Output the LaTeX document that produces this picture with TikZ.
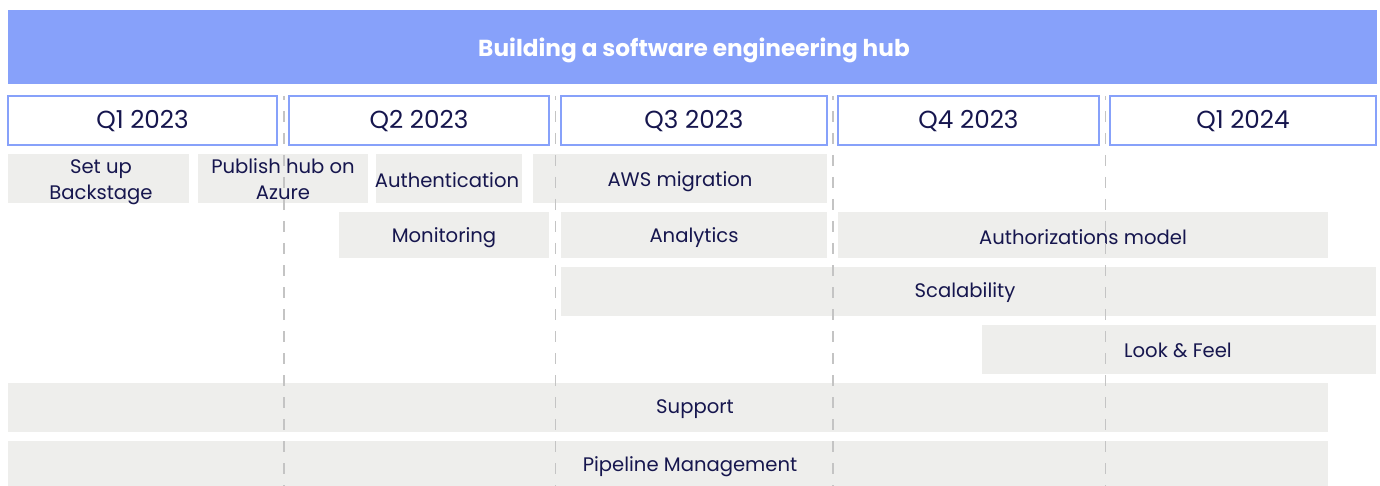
\documentclass[tikz,border=0pt]{standalone}
\usepackage{fontspec}
\setmainfont{Poppins}
\definecolor{hubblue}{HTML}{87A1FA}
\definecolor{navy}{HTML}{16164E}
\definecolor{barfill}{HTML}{EEEEEC}
\definecolor{dashgray}{HTML}{C4C4C4}
\begin{document}
\begin{tikzpicture}[x=1pt,y=-1pt,
  qtxt/.style={text=navy,font=\fontsize{24.7}{28}\selectfont,inner sep=0pt},
  itxt/.style={text=navy,font=\fontsize{19.6}{26}\selectfont,inner sep=0pt,align=center},
  bar/.style={fill=barfill},
  qframe/.style={draw=hubblue,line width=1.6pt,fill=white},
  divider/.style={draw=dashgray,line width=1.3pt,dash pattern=on 11pt off 11pt,dash phase=7pt}]
\useasboundingbox (0,0) rectangle (1380,486);
% title
\fill[hubblue] (8,10) rectangle (1377,84);
\node[text=white,font=\fontsize{23.2}{26}\selectfont\bfseries,inner sep=0pt] (title) at (694,50) {Building a software engineering hub};
% quarters
\foreach \name/\xa/\xb/\lab in {q1/8/277/Q1 2023, q2/289/549/Q2 2023, q3/561/827/Q3 2023, q4/838/1099/Q4 2023, q5/1110/1376/Q1 2024}{
  \draw[qframe] (\xa,96) rectangle (\xb,145);
  \node[qtxt] (\name) at ({(\xa+\xb)/2},121) {\lab};
}
% bars
\fill[bar] (8,154) rectangle (189,203);
\fill[bar] (198,154) rectangle (368,203);
\fill[bar] (376,154) rectangle (522,203);
\fill[bar] (533,154) rectangle (827,203);
\fill[bar] (339,212) rectangle (549,258);
\fill[bar] (561,212) rectangle (827,258);
\fill[bar] (838,212) rectangle (1328,258);
\fill[bar] (561,267) rectangle (1376,316);
\fill[bar] (982,325) rectangle (1376,374);
\fill[bar] (8,383) rectangle (1328,432);
\fill[bar] (8,441) rectangle (1328,490);
% labels
\node[itxt] (setup) at (101,182) {Set up\\Backstage};
\node[itxt] (publish) at (283,179) {Publish hub on\\Azure};
\node[itxt] (auth) at (447,180) {Authentication};
\node[itxt] (aws) at (680,182) {AWS migration};
\node[itxt] (mon) at (444,238) {Monitoring};
\node[itxt] (ana) at (694,238) {Analytics};
\node[itxt] (authz) at (1083,237) {Authorizations model};
\node[itxt] (scal) at (965,293) {Scalability};
\node[itxt] (look) at (1178,350) {Look \& Feel};
\node[itxt] (sup) at (695,409) {Support};
\node[itxt] (pipe) at (690,467) {Pipeline Management};
% dividers
\coordinate (d1t) at (284,96); \coordinate (d1b) at (284,486);
\coordinate (d2t) at (555.5,96); \coordinate (d2b) at (555.5,486);
\coordinate (d3t) at (833,96); \coordinate (d3b) at (833,486);
\coordinate (d4t) at (1105.5,96); \coordinate (d4b) at (1105.5,486);
\draw[divider] (d1t) -- (d1b);
\draw[divider] (d2t) -- (d2b);
\draw[divider] (d3t) -- (d3b);
\draw[divider] (d4t) -- (d4b);
\end{tikzpicture}
\end{document}
